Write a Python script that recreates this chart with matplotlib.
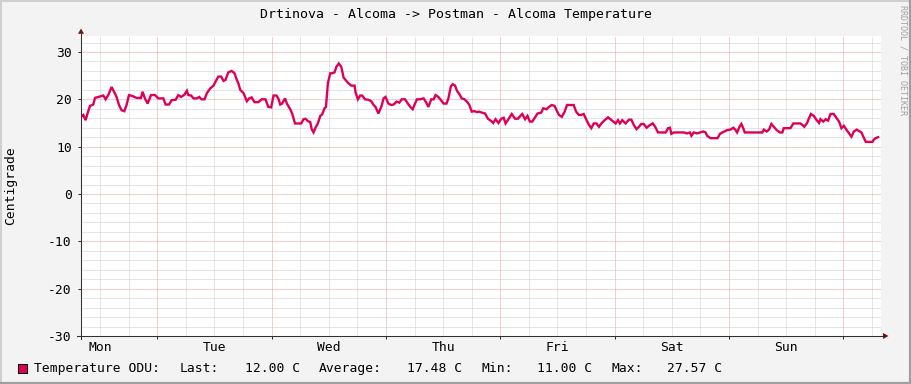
import matplotlib
matplotlib.use("Agg")
import matplotlib.pyplot as plt
import matplotlib.transforms as mtransforms
from matplotlib.patches import Rectangle, Polygon

# ---------------- data ----------------
TITLE = "Drtinova - Alcoma -> Postman - Alcoma Temperature"
Y_LABEL = "Centigrade"
WATERMARK = "RRDTOOL / TOBI OETIKER"
DAYS = ["Mon", "Tue", "Wed", "Thu", "Fri", "Sat", "Sun"]
DAY_NOON_HOURS = [12, 36, 60, 84, 108, 132, 156]
MIDNIGHT_HOURS = [24, 48, 72, 96, 120, 144, 168]
Y_TICKS = [-30, -20, -10, 0, 10, 20, 30]
SERIES_NAME = "Temperature ODU:"
STAT_LAST = 12.00
STAT_AVG = 17.48
STAT_MIN = 11.00
STAT_MAX = 27.57
UNIT = "C"

# hours since Monday 00:00
HOURS = [
    7.98, 8.46, 8.95, 9.37, 9.87, 10.56, 10.92, 11.6, 12.66, 13.14, 13.7, 14.4,
    14.97, 15.45, 15.95, 16.5, 17.07, 17.55, 18.05, 18.75, 19.66, 20.58, 20.9,
    21.4, 21.96, 22.67, 23.5, 24.2, 25.26, 25.74, 26.45, 27.0, 27.84, 28.4,
    29.0, 29.7, 30.2, 30.5, 31.1, 31.6, 32.3, 32.8, 33.3, 33.9, 34.4, 35.1,
    35.8, 36.2, 36.8, 37.4, 37.9, 38.3, 38.9, 39.6, 40.2, 40.7, 41.0, 41.4,
    42.1, 42.8, 43.3, 43.8, 44.4, 45.2, 45.9, 46.7, 47.3, 47.9, 48.4, 49.0,
    49.4, 49.8, 50.2, 50.8, 51.2, 51.9, 52.3, 52.9, 53.6, 54.2, 54.7, 55.1,
    55.6, 56.1, 56.4, 56.8, 57.2, 57.7, 58.2, 58.6, 59.1, 59.4, 59.8, 60.3,
    60.7, 61.2, 61.6, 62.1, 62.6, 63.1, 63.5, 64.1, 64.7, 65.4, 65.6, 66.1,
    66.6, 67.0, 67.6, 68.3, 68.9, 69.4, 69.8, 70.4, 71.0, 71.5, 71.9, 72.5,
    73.1, 73.6, 74.2, 74.8, 75.3, 76.0, 76.6, 77.1, 77.6, 78.0, 78.5, 79.2,
    79.9, 80.4, 80.9, 81.5, 82.0, 82.4, 83.0, 83.4, 84.1, 84.7, 85.1, 85.6,
    86.0, 86.5, 86.9, 87.4, 87.9, 88.5, 89.0, 89.5, 90.0, 90.6, 91.1, 91.5,
    92.1, 92.8, 93.4, 94.1, 94.5, 95.0, 95.6, 96.2, 96.7, 97.1, 97.7, 98.4,
    99.1, 99.7, 100.2, 100.6, 101.2, 101.7, 102.2, 102.7, 103.3, 103.8, 104.6,
    105.0, 105.7, 106.2, 106.8, 107.4, 107.8, 108.3, 108.9, 109.5, 110.0,
    110.7, 111.4, 111.9, 112.5, 112.9, 113.5, 114.1, 114.6, 115.1, 115.6,
    116.2, 116.7, 117.2, 117.9, 118.6, 119.1, 119.7, 120.2, 120.7, 121.1,
    121.6, 122.3, 123.0, 123.5, 124.0, 124.6, 125.1, 125.6, 126.1, 126.7,
    127.3, 128.0, 128.5, 129.1, 130.0, 130.7, 131.2, 131.6, 131.9, 132.4,
    133.5, 134.5, 135.2, 135.8, 136.1, 136.6, 137.3, 137.9, 138.6, 139.1,
    139.4, 140.1, 140.9, 141.6, 142.1, 142.6, 143.0, 143.6, 144.3, 144.9,
    145.3, 145.7, 146.2, 146.6, 147.0, 147.3, 148.2, 149.2, 150.2, 151.0,
    151.3, 151.9, 152.4, 152.9, 153.4, 154.0, 154.7, 155.2, 155.5, 156.2,
    156.9, 157.5, 158.3, 159.0, 159.4, 159.8, 160.4, 160.7, 161.2, 161.8,
    162.4, 162.9, 163.2, 163.8, 164.3, 164.8, 165.3, 166.0, 166.6, 167.1,
    167.6, 168.1, 168.7, 169.2, 169.7, 170.2, 170.8, 171.3, 171.8, 172.2,
    172.7, 173.4, 174.1, 174.4, 174.8, 175.3,
]
TEMPS = [
    16.3, 16.7, 15.6, 17.1, 18.6, 18.9, 20.3, 20.5, 20.8, 20.0, 20.9, 22.6,
    21.5, 20.5, 18.8, 17.7, 17.5, 18.8, 20.9, 20.7, 20.3, 20.3, 21.6,
    20.2, 19.1, 20.9, 20.9, 20.2, 20.2, 18.9, 18.9, 19.8, 19.9, 20.9,
    20.5, 21.0, 21.8, 20.9, 20.8, 20.2, 20.2, 20.5, 20.0, 20.0, 21.3, 22.3,
    22.9, 23.7, 24.8, 24.8, 23.9, 24.1, 25.7, 26.0, 25.5, 24.1, 23.4, 22.0,
    21.3, 19.6, 20.2, 20.4, 19.4, 19.4, 20.0, 20.0, 18.4, 18.3, 20.8, 20.8,
    20.2, 18.9, 19.1, 20.2, 19.1, 17.9, 17.0, 14.9, 14.9, 14.9, 15.8, 15.9,
    15.4, 15.2, 13.7, 13.0, 14.0, 14.9, 16.5, 16.8, 18.1, 18.4, 23.4, 25.5,
    25.5, 25.7, 26.9, 27.57, 26.9, 24.6, 24.1, 23.4, 22.9, 22.9, 21.5, 20.0,
    20.8, 20.8, 20.0, 19.9, 19.6, 18.8, 18.4, 17.0, 18.4, 20.2, 20.5, 19.1,
    18.8, 18.9, 19.5, 19.3, 20.0, 20.0, 19.1, 18.4, 17.9, 18.9, 20.0, 20.0,
    20.2, 19.4, 18.4, 20.0, 20.0, 20.9, 20.5, 20.0, 19.1, 19.1, 20.2, 22.7,
    23.2, 22.9, 21.8, 21.1, 20.2, 20.0, 19.5, 18.8, 17.4, 17.5, 17.3, 17.4,
    17.2, 17.0, 15.9, 15.4, 15.0, 15.8, 15.0, 15.9, 16.1, 14.9, 15.8, 16.9,
    15.9, 15.9, 16.5, 16.9, 15.8, 16.5, 15.3, 15.3, 16.2, 17.0, 17.2,
    18.1, 17.9, 18.4, 18.8, 18.6, 17.7, 16.7, 16.3, 17.4, 18.8,
    18.8, 18.8, 17.4, 16.7, 16.7, 16.9, 15.6, 14.6, 13.9, 14.9,
    14.9, 14.2, 14.9, 15.6, 16.2, 15.8, 15.3, 14.9, 15.6, 14.9,
    15.6, 14.9, 15.7, 15.7, 14.6, 13.7, 14.2, 14.8, 14.8, 14.0,
    14.5, 14.9, 14.2, 13.0, 13.0, 13.0, 13.9, 14.0, 12.7, 13.0,
    13.0, 13.0, 12.8, 13.0, 12.3, 13.0, 12.8, 13.0, 13.2, 13.0,
    12.3, 11.8, 11.8, 11.8, 12.7, 13.0, 13.2, 13.5, 13.6, 14.0,
    13.6, 13.0, 14.2, 14.8, 13.9, 13.0, 13.0, 13.0, 13.0, 13.0,
    13.6, 13.2, 13.6, 14.8, 14.2, 13.5, 13.0, 13.0, 13.9, 13.9,
    13.9, 14.9, 14.9, 14.9, 14.6, 14.2, 15.0, 15.8, 16.9, 16.5,
    15.6, 15.0, 15.8, 15.3, 15.8, 15.5, 16.9, 16.9, 16.0, 15.3,
    13.9, 14.4, 13.5, 12.8, 12.1, 13.2, 13.6, 13.3, 13.0, 12.1,
    11.0, 11.0, 11.0, 11.5, 11.8, 12.0,
]

# ---------------- style ----------------
W, H = 911, 384
BG = "#F3F3F3"
LINE_COLOR = "#DE0058"
MINOR_GRID = "#CDCDCD"
MAJOR_GRID = "#EC9E9E"
AXIS_COLOR = "#303030"
ARROW_COLOR = "#7A1010"
FONT = "DejaVu Sans Mono"
FS = 9.4

plt.rcParams["font.family"] = [FONT, "DejaVu Sans"]

fig = plt.figure(figsize=(W / 100, H / 100), dpi=100, facecolor=BG)

# plot area in pixels: x 81..880.5, y 35.7..336
px_l, px_r, px_t, px_b = 81, 880.5, 35.7, 336
ax = fig.add_axes([px_l / W, (H - px_b) / H, (px_r - px_l) / W, (px_b - px_t) / H])
ax.set_facecolor("white")
ax.set_xlim(7.98, 175.8)
ax.set_ylim(-30, 33.44)

ax.set_xticks(MIDNIGHT_HOURS)
ax.set_xticks([h for h in range(12, 176, 6) if h % 24 != 0], minor=True)
ax.set_yticks(Y_TICKS)
ax.set_yticks([v for v in range(-28, 34, 2) if v % 10 != 0], minor=True)
ax.set_yticklabels([str(v) for v in Y_TICKS])

dot = (0, (1, 1))
ax.grid(which="minor", color=MINOR_GRID, linestyle=dot, linewidth=0.72, zorder=0)
ax.grid(which="major", color=MAJOR_GRID, linestyle=dot, linewidth=0.72, zorder=0)
ax.set_axisbelow(True)

for s in ax.spines.values():
    s.set_visible(False)

ax.tick_params(axis="x", which="major", length=2.3, width=0.75, color=AXIS_COLOR,
               labelbottom=False, direction="out")
ax.tick_params(axis="x", which="minor", length=0)
ax.tick_params(axis="y", which="major", length=2.3, width=0.75, color=AXIS_COLOR,
               labelsize=FS, pad=4.3, direction="out")
ax.tick_params(axis="y", which="minor", length=0)
for lab in ax.get_yticklabels():
    lab.set_fontfamily(FONT)

ax.plot(HOURS, TEMPS, color=LINE_COLOR, linewidth=1.7, zorder=5,
        solid_joinstyle="miter", clip_on=True)

# overlay in pixel coordinates for frame, axis arrows and legend
ov = fig.add_axes([0, 0, 1, 1], zorder=10)
ov.set_xlim(0, W)
ov.set_ylim(H, 0)
ov.axis("off")
ov.patch.set_alpha(0)

# outer frame
ov.plot([0, W], [0.7, 0.7], color="#CFCFCF", lw=1.4)
ov.plot([0.7, 0.7], [0, H], color="#CFCFCF", lw=1.4)
ov.plot([0, W], [H - 1, H - 1], color="#9E9E9E", lw=1.6)
ov.plot([W - 1, W - 1], [0, H], color="#9E9E9E", lw=1.6)

# axes lines + arrows
ov.plot([81, 81], [339, 33], color=AXIS_COLOR, lw=0.75)
ov.plot([77, 884], [336, 336], color=AXIS_COLOR, lw=0.75)
ov.add_patch(Polygon([[78, 33.8], [84, 33.8], [81, 28.5]], closed=True,
                     fc=ARROW_COLOR, ec="none"))
ov.add_patch(Polygon([[883, 333], [883, 339], [888.5, 336]], closed=True,
                     fc=ARROW_COLOR, ec="none"))

# day labels (at noon, below the axis)
trans = mtransforms.blended_transform_factory(ax.transData, ov.transData)
for h, d in zip(DAY_NOON_HOURS, DAYS):
    ov.text(h, 347.5, d, transform=trans, ha="center", va="center",
            fontsize=FS, fontfamily=FONT, color="black")

# title, y label, watermark
ov.text(W / 2, 14.5, TITLE, ha="center", va="center", fontsize=9.5,
        fontfamily=FONT, color="black")
ov.text(11, 186, Y_LABEL, ha="center", va="center", rotation=90,
        fontsize=FS, fontfamily=FONT, color="black")
ov.text(903.5, 5, WATERMARK, ha="center", va="top", rotation=270,
        fontsize=6, fontfamily=FONT, color="#A0A0A0")

# legend
ov.add_patch(Rectangle((17.5, 363.5), 9.5, 9.5, fc=LINE_COLOR, ec="black", lw=0.75))
ly = 368.5
pieces = [
    (34, SERIES_NAME),
    (180, "Last:"),
    (245, f"{STAT_LAST:.2f} {UNIT}"),
    (319, "Average:"),
    (407, f"{STAT_AVG:.2f} {UNIT}"),
    (481, "Min:"),
    (537, f"{STAT_MIN:.2f} {UNIT}"),
    (611, "Max:"),
    (667, f"{STAT_MAX:.2f} {UNIT}"),
]
for x, t in pieces:
    ov.text(x, ly, t, ha="left", va="center", fontsize=FS, fontfamily=FONT,
            color="black")

fig.savefig("out.png", dpi=100, facecolor=BG)
